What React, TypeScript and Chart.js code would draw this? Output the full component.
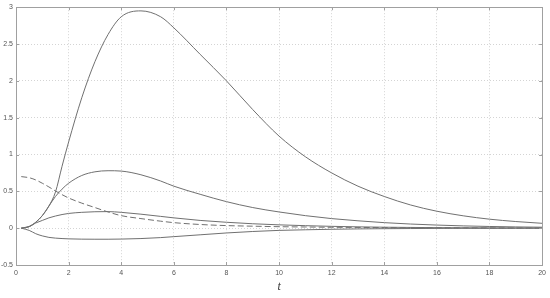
import React, { useEffect, useRef } from "react";
import { Chart, registerables } from "chart.js";

Chart.register(...registerables);

const tValues = [0.2, 0.5, 0.75, 1, 1.25, 1.5, 1.75, 2, 2.5, 3, 3.5, 4, 4.75, 5.5, 6, 7, 8, 9, 10, 11, 12, 13, 14, 15, 16, 17, 18, 19, 20];
const seriesA = [0, 0.02, 0.08, 0.17, 0.3, 0.49, 0.84, 1.17, 1.77, 2.26, 2.63, 2.87, 2.95, 2.87, 2.72, 2.36, 2.0, 1.61, 1.25, 0.97, 0.75, 0.57, 0.43, 0.315, 0.23, 0.168, 0.122, 0.09, 0.066];
const seriesB = [0, 0.02, 0.08, 0.17, 0.3, 0.43, 0.53, 0.61, 0.715, 0.765, 0.78, 0.775, 0.725, 0.64, 0.57, 0.46, 0.36, 0.28, 0.22, 0.17, 0.13, 0.1, 0.075, 0.056, 0.042, 0.031, 0.023, 0.017, 0.013];
const seriesC = [0, 0.025, 0.07, 0.105, 0.14, 0.165, 0.185, 0.2, 0.215, 0.223, 0.225, 0.215, 0.19, 0.16, 0.14, 0.105, 0.08, 0.06, 0.045, 0.034, 0.025, 0.018, 0.013, 0.01, 0.007, 0.005, 0.004, 0.003, 0.002];
const seriesD = [0, -0.03, -0.075, -0.105, -0.125, -0.135, -0.141, -0.145, -0.149, -0.15, -0.15, -0.148, -0.141, -0.128, -0.115, -0.09, -0.065, -0.045, -0.03, -0.022, -0.015, -0.01, -0.007, -0.005, -0.003, -0.002, -0.002, -0.001, -0.001];
const seriesDashed = [0.7, 0.685, 0.655, 0.61, 0.56, 0.505, 0.455, 0.41, 0.34, 0.28, 0.22, 0.17, 0.13, 0.095, 0.075, 0.05, 0.035, 0.027, 0.02, 0.016, 0.012, 0.01, 0.008, 0.006, 0.005, 0.004, 0.003, 0.002, 0.002];

const xAxisTitle = "t";

const toPoints = (ys: number[]) => ys.map((y, i) => ({ x: tValues[i], y }));

const boxPlugin = {
  id: "boxPlugin",
  afterDatasetsDraw(chart: any) {
    const { ctx, chartArea } = chart;
    const { left, right, top, bottom } = chartArea;
    ctx.save();
    ctx.strokeStyle = "#a0a0a0";
    ctx.lineWidth = 1;
    ctx.strokeRect(Math.round(left) + 0.5, Math.round(top) + 0.5, Math.round(right - left), Math.round(bottom - top));
    const xs = chart.scales.x;
    const ys = chart.scales.y;
    ctx.beginPath();
    xs.ticks.forEach((t: any) => {
      const px = Math.round(xs.getPixelForValue(t.value)) + 0.5;
      ctx.moveTo(px, bottom);
      ctx.lineTo(px, bottom - 3);
      ctx.moveTo(px, top);
      ctx.lineTo(px, top + 3);
    });
    ys.ticks.forEach((t: any) => {
      const py = Math.round(ys.getPixelForValue(t.value)) + 0.5;
      ctx.moveTo(left, py);
      ctx.lineTo(left + 3, py);
      ctx.moveTo(right, py);
      ctx.lineTo(right - 3, py);
    });
    ctx.stroke();
    ctx.restore();
  },
};

export default function App() {
  const ref = useRef<HTMLCanvasElement>(null);
  useEffect(() => {
    if (!ref.current) return;
    const lineColor = "#707070";
    const mk = (data: number[], dashed = false) => ({
      data: toPoints(data),
      borderColor: lineColor,
      borderWidth: 1,
      borderDash: dashed ? [6, 3] : [],
      pointRadius: 0,
      fill: false,
      cubicInterpolationMode: "monotone" as const,
    });
    const fmt = (v: any) => String(Math.round(Number(v) * 100) / 100);
    const chart = new Chart(ref.current, {
      type: "line",
      data: {
        datasets: [mk(seriesA), mk(seriesB), mk(seriesC), mk(seriesD), mk(seriesDashed, true)],
      },
      options: {
        animation: false,
        responsive: false,
        maintainAspectRatio: false,
        layout: { padding: { left: 0, right: 6, top: 5, bottom: 0 } },
        plugins: { legend: { display: false }, tooltip: { enabled: false } },
        scales: {
          x: {
            type: "linear",
            min: 0,
            max: 20,
            ticks: { stepSize: 2, color: "#555", font: { family: "Liberation Sans", size: 7 }, padding: 4, maxRotation: 0, callback: fmt },
            grid: { color: "#d4d4d4", drawTicks: false, lineWidth: 1 },
            border: { display: false, dash: [1, 2] },
            title: { display: true, text: xAxisTitle, color: "#333", font: { family: "Liberation Serif", size: 12, style: "italic" }, padding: { top: 4, bottom: 4 } },
            afterFit: (s: any) => { s.height = 33; },
          },
          y: {
            min: -0.5,
            max: 3,
            ticks: { stepSize: 0.5, color: "#555", font: { family: "Liberation Sans", size: 7 }, padding: 3, callback: fmt },
            grid: { color: "#d4d4d4", drawTicks: false, lineWidth: 1 },
            border: { display: false, dash: [1, 2] },
            afterFit: (s: any) => { s.width = 16; },
          },
        },
      },
      plugins: [boxPlugin],
    });
    return () => chart.destroy();
  }, []);
  return (
    <div style={{ position: "fixed", left: 0, top: 0, width: 550, height: 298, background: "#fff" }}>
      <canvas ref={ref} width={550} height={298} style={{ width: 550, height: 298 }} />
    </div>
  );
}
